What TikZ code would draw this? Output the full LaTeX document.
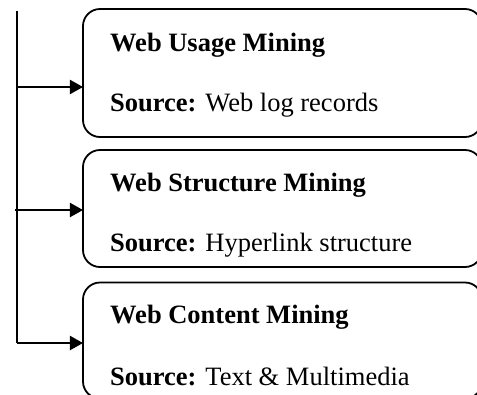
\documentclass[tikz,border=0pt]{standalone}
\usepackage{fontspec}
\setmainfont{Liberation Serif}
\usetikzlibrary{arrows.meta}
\begin{document}
\begin{tikzpicture}[x=1bp,y=-1bp,
  box/.style={draw, line width=1.8bp, rounded corners=17bp, minimum width=399bp, inner sep=0pt, outer sep=0pt},
  txt/.style={anchor=base west, inner sep=0pt, font=\fontsize{26.5bp}{30bp}\selectfont},
  conn/.style={line width=2bp},
  arr/.style={line width=2bp, -{Triangle[length=13bp,width=14bp]}}]
\useasboundingbox (0,0) rectangle (477,394);
\clip (0,0) rectangle (477,394);
\node[box, minimum height=128bp] (b1) at (282.5,73) {};
\node[box, minimum height=117bp] (b2) at (282.5,208.5) {};
\node[box, minimum height=116bp] (b3) at (282.5,340.5) {};
\node[txt] (t1) at (110,51) {\textbf{Web Usage Mining}};
\node[txt] (s1) at (110,111.5) {\textbf{Source:} Web log records};
\node[txt] (t2) at (110,191) {\textbf{Web Structure Mining}};
\node[txt] (s2) at (110,251.5) {\textbf{Source:} Hyperlink structure};
\node[txt] (t3) at (110,323) {\textbf{Web Content Mining}};
\node[txt] (s3) at (110,385) {\textbf{Source:} Text \& Multimedia};
\coordinate (top) at (17,11);
\coordinate (j1) at (17,87);
\coordinate (j2) at (15,210);
\coordinate (j3) at (17,343);
\draw[conn] (top) -- (j3);
\draw[arr] (j1) -- (j1 -| b1.west);
\draw[arr] (j2) -- (j2 -| b2.west);
\draw[arr] (j3) -- (j3 -| b3.west);
\end{tikzpicture}
\end{document}
